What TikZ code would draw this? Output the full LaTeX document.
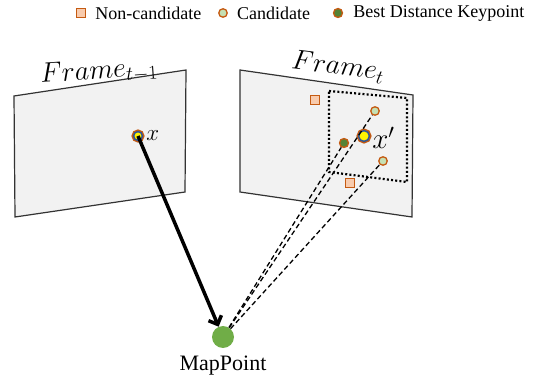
\RequirePackage{fix-cm}
\documentclass[tikz,border=0pt]{standalone}
\usepackage{fontspec}
\setmainfont{Liberation Serif}
\usetikzlibrary{positioning, arrows.meta}
\definecolor{orng}{HTML}{C55A11}
\definecolor{peach}{HTML}{F8CBAD}
\definecolor{lgreen}{HTML}{C5E0B4}
\definecolor{dgreen}{HTML}{548235}
\definecolor{mgreen}{HTML}{70AD47}
\definecolor{kblue}{HTML}{2F5597}
\definecolor{framegray}{HTML}{333333}
\definecolor{framefill}{HTML}{F2F2F2}

\begin{document}
\begin{tikzpicture}[x=1pt, y=-1pt, >={Straight Barb[length=7pt,width=14pt]}]
  \tikzstyle{frame} = [draw=framegray, fill=framefill, line width=1.2pt]
  \tikzstyle{noncand} = [draw=orng, fill=peach, rectangle, line width=1.2pt, minimum size=9pt, inner sep=0]
  \tikzstyle{cand} = [draw=orng, fill=lgreen, circle, line width=1.3pt, minimum size=8.5pt, inner sep=0]
  \tikzstyle{best} = [draw=orng, fill=dgreen, circle, line width=1.3pt, minimum size=9pt, inner sep=0]
  \tikzstyle{kp} = [circle, fill=yellow, draw=kblue, line width=1.5pt, preaction={draw=orng, line width=4.2pt}, inner sep=0]
  \tikzstyle{lg} = [font=\fontsize{18}{20}\selectfont, inner sep=0]
  \tikzstyle{ray} = [line width=1.3pt, dash pattern=on 5pt off 3pt]
  \useasboundingbox (0,0) rectangle (536,382);

  % legend
  \node [noncand] (lgnon) at (81,13) {};
  \node [lg, right=9pt of lgnon] (lgnontxt) {Non-candidate};
  \node [cand] (lgcand) at (223,13) {};
  \node [lg, right=9pt of lgcand] (lgcandtxt) {Candidate};
  \node [best] (lgbest) at (338,13) {};
  \node [lg, right=10pt of lgbest] (lgbesttxt) {Best Distance Keypoint};

  % frames
  \draw [frame] (14,96) -- (186,70) -- (185,192) -- (15,217) -- cycle;
  \draw [frame] (240,70) -- (413,95) -- (412,217) -- (240,192) -- cycle;
  \draw [line width=2.2pt, dash pattern=on 2pt off 2.2pt] (329,91) -- (407,98) -- (407,182) -- (329,172) -- cycle;
  \node [rotate=4, inner sep=0] (prevlbl) at (99,72) {\fontsize{28}{30}\selectfont $Frame_{t-1}$};
  \node [rotate=-7, inner sep=0] (curlbl) at (338,67) {\fontsize{28}{30}\selectfont $Frame_{t}$};

  % keypoints
  \node [noncand] (nc1) at (315,100) {};
  \node [noncand] (nc2) at (350,183) {};
  \node [cand] (c1) at (375,111) {};
  \node [cand] (c2) at (383,161) {};
  \node [best] (bst) at (344,143) {};
  \node [kp, minimum size=8.8pt] (xp) at (138,136) {};
  \node [inner sep=0, right=3pt of xp] (xlbl) {\fontsize{23}{25}\selectfont $x$};
  \node [kp, minimum size=10.8pt] (xq) at (364,136) {};
  \node [inner sep=0, right=2pt of xq, yshift=-2pt] (xqlbl) {\fontsize{29}{31}\selectfont $x'$};

  % map point
  \node [circle, fill=mgreen, minimum size=22pt, inner sep=0] (map) at (223,337) {};
  \node [font=\fontsize{22}{24}\selectfont, inner sep=0, below=8pt of map] (maplbl) {MapPoint};

  \draw [->, line width=3.5pt] (xp.center) -- (map);
  \draw [ray] (map) -- (c1);
  \draw [ray] (map) -- (bst);
  \draw [ray] (map) -- (c2);
\end{tikzpicture}
\end{document}
